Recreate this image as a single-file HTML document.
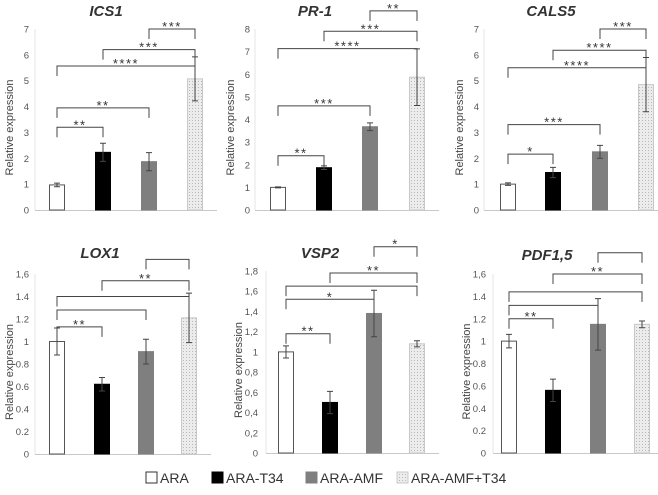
<!DOCTYPE html>
<html><head><meta charset="utf-8">
<style>
html,body{margin:0;padding:0;background:#fff;}
svg{display:block;font-family:"Liberation Sans",Arial,sans-serif;}
</style></head>
<body>
<svg id="fig" width="658" height="495" viewBox="0 0 658 495" xmlns="http://www.w3.org/2000/svg">
<defs>
<pattern id="dots" width="3" height="3" patternUnits="userSpaceOnUse">
<rect width="3" height="3" fill="#ececec"/><rect width="1" height="1" fill="#b8b8b8"/>
</pattern>
</defs>
</svg>
<script>
const categories = ["ARA","ARA-T34","ARA-AMF","ARA-AMF+T34"];
const ics1Values = [0.97,2.23,1.87,5.07];
const ics1Errors = [0.07,0.35,0.35,0.85];
const ics1Ticks = ["0","1","2","3","4","5","6","7"];
const ics1Brackets = [[0,1,3.2,"**"],[0,2,3.95,"**"],[0,3,5.57,"****"],[1,3,6.2,"***"],[2,3,7.0,"***"]];
const pr1Values = [1.0,1.87,3.68,5.87];
const pr1Errors = [0.02,0.08,0.17,1.25];
const pr1Ticks = ["0","1","2","3","4","5","6","7","8"];
const pr1Brackets = [[0,1,2.4,"**"],[0,2,4.6,"***"],[0,3,7.13,"****"],[1,3,7.9,"***"],[2,3,8.8,"**"]];
const cals5Values = [1.0,1.45,2.25,4.85];
const cals5Errors = [0.05,0.2,0.25,1.05];
const cals5Ticks = ["0","1","2","3","4","5","6","7"];
const cals5Brackets = [[0,1,2.16,"*"],[0,2,3.3,"***"],[0,3,5.5,"****"],[1,3,6.18,"****"],[2,3,7.0,"***"]];
const lox1Values = [1.0,0.62,0.91,1.21];
const lox1Errors = [0.12,0.06,0.11,0.22];
const lox1Ticks = ["0","0.2","0.4","0.6","0.8","1","1.2","1.4","1,6"];
const lox1Brackets = [[0,1,1.13,"**"],[0,2,1.28,""],[0,3,1.4,""],[1,3,1.54,"**"],[2,3,1.73,""]];
const vsp2Values = [1.0,0.5,1.38,1.08];
const vsp2Errors = [0.06,0.11,0.23,0.03];
const vsp2Ticks = ["0","0,2","0,4","0,6","0,8","1","1,2","1,4","1,6","1,8"];
const vsp2Brackets = [[0,1,1.18,"**"],[0,2,1.52,"*"],[0,3,1.65,""],[1,3,1.78,"**"],[2,3,2.04,"*"]];
const pdfValues = [1.0,0.56,1.15,1.15];
const pdfErrors = [0.06,0.1,0.23,0.03];
const pdfTicks = ["0","0.2","0.4","0.6","0.8","1","1.2","1.4","1,6"];
const pdfBrackets = [[0,1,1.2,"**"],[0,2,1.32,""],[0,3,1.44,""],[1,3,1.6,"**"],[2,3,1.79,""]];

const NS="http://www.w3.org/2000/svg";
const svg=document.getElementById('fig');
function mk(tag,attrs,parent){const e=document.createElementNS(NS,tag);for(const k in attrs)e.setAttribute(k,attrs[k]);(parent||svg).appendChild(e);return e;}
const fills=["#ffffff","#000000","#7f7f7f","url(#dots)"];
const strokes=["#555","#000","#7f7f7f","#c8c8c8"];

const panels=[
 {id:"ics1",title:"ICS1",vals:ics1Values,errs:ics1Errors,ticks:ics1Ticks,br:ics1Brackets,max:7,ax:35,y0:210,y1:29,xs:[57,103,149,195],tx:106,ty:16,lblx:24},
 {id:"pr1",title:"PR-1",vals:pr1Values,errs:pr1Errors,ticks:pr1Ticks,br:pr1Brackets,max:8,ax:255,y0:210,y1:29,xs:[278,324,370,417],tx:315,ty:16,lblx:245},
 {id:"cals5",title:"CALS5",vals:cals5Values,errs:cals5Errors,ticks:cals5Ticks,br:cals5Brackets,max:7,ax:484,y0:210,y1:29,xs:[508,553,600,646],tx:551,ty:16,lblx:474},
 {id:"lox1",title:"LOX1",vals:lox1Values,errs:lox1Errors,ticks:lox1Ticks,br:lox1Brackets,max:1.6,ax:35,y0:454,y1:274,xs:[57,102,146,189],tx:100,ty:258,lblx:24},
 {id:"vsp2",title:"VSP2",vals:vsp2Values,errs:vsp2Errors,ticks:vsp2Ticks,br:vsp2Brackets,max:1.8,ax:266,y0:453,y1:271,xs:[286,330,374,417],tx:320,ty:258,lblx:253},
 {id:"pdf15",title:"PDF1,5",vals:pdfValues,errs:pdfErrors,ticks:pdfTicks,br:pdfBrackets,max:1.6,ax:493,y0:453,y1:274,xs:[509,553,598,642],tx:547,ty:260,lblx:481}
];

panels.forEach(p=>{
 const g=mk('g',{});
 
 
 const y=v=>p.y0-(v/p.max)*(p.y0-p.y1);
 const t=mk('text',{x:p.tx,y:p.ty,'text-anchor':'middle','font-size':15,'font-weight':'bold','font-style':'italic',fill:'#333'},g);
 t.textContent=p.title;
 
 
 const yl=mk('text',{transform:`translate(${p.lblx-11},${(p.y0+p.y1)/2+8}) rotate(-90)`,'text-anchor':'middle','font-size':11,fill:'#444'},g);
 yl.textContent="Relative expression";
 
 
 const step=p.max/(p.ticks.length-1);
 p.ticks.forEach((lab,i)=>{
  const tk=mk('text',{x:p.lblx+5,y:y(i*step)+3.5,'text-anchor':'end','font-size':9.5,fill:'#555'},g);
  tk.textContent=lab;
  
  
 });
 const va=mk('line',{x1:p.ax,x2:p.ax,y1:p.y1,y2:p.y0,stroke:'#e4e4e4','stroke-width':1},g);
 
 
 const xa=mk('line',{x1:p.ax,x2:p.xs[3]+22,y1:p.y0+0.5,y2:p.y0+0.5,stroke:'#c8c8c8','stroke-width':1},g);
 
 
 p.vals.forEach((v,i)=>{
  const b=mk('rect',{x:p.xs[i]-7.5,y:y(v),width:15,height:p.y0-y(v),fill:fills[i],stroke:strokes[i],'stroke-width':1},g);
  
  
  const e=p.errs[i],cx=p.xs[i];
  const eb=mk('path',{d:`M${cx},${y(v+e)}V${y(v-e)}M${cx-3},${y(v+e)}H${cx+3}M${cx-3},${y(v-e)}H${cx+3}`,stroke:'#444','stroke-width':1,fill:'none'},g);
  
  
 });
 p.br.forEach(b=>{
  const x1=p.xs[b[0]],x2=p.xs[b[1]],yy=y(b[2]);
  const path=mk('path',{d:`M${x1},${yy+10}V${yy}H${x2}V${yy+10}`,stroke:'#444','stroke-width':1,fill:'none'},g);
  
  
  if(b[3]){
   const s=mk('text',{x:(x1+x2)/2,y:yy+2,'text-anchor':'middle','font-size':13,fill:'#333','letter-spacing':'1.5'},g);
   s.textContent=b[3];
   
   
  }
 });
});

const legX=[146,212,306,397];
const lg=mk('g',{});


categories.forEach((c,i)=>{
 const r=mk('rect',{x:legX[i],y:472,width:11,height:11,fill:fills[i],stroke:i==0?'#333':strokes[i],'stroke-width':1},lg);
 
 
 const t=mk('text',{x:legX[i]+14,y:483,'font-size':14,fill:'#333'},lg);
 t.textContent=c;
 
 
});
</script>
</body></html>
